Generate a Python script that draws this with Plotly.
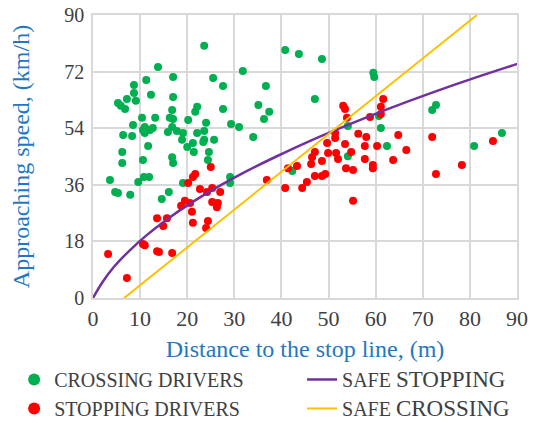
import plotly.graph_objects as go

# Crossing drivers (distance m, speed km/h)
cross_x = [23.6, 40.8, 43.7, 48.6, 31.8, 36.7, 47.1, 35.1, 37.4, 36.3, 29.3, 31.0, 34.0,
           59.5, 59.7, 54.1, 72.0, 72.8, 61.1, 60.7, 62.4, 80.9, 86.8, 54.1, 42.3, 29.1, 29.1,
           13.8, 11.3, 8.7, 8.7, 12.3, 7.2, 9.1, 5.3, 5.9, 6.8, 10.4, 13.2, 8.5, 16.3, 11.0,
           10.6, 12.1, 6.4, 8.3, 11.0, 12.7, 16.8, 15.9, 16.8, 17.0, 17.0, 25.5, 27.6, 27.6,
           22.1, 21.7, 17.0, 20.2, 24.0, 17.8, 19.1, 23.6, 22.1, 18.9, 23.6, 25.7, 21.2, 20.0,
           11.7, 6.2, 6.2, 10.6, 16.8, 17.0, 3.6, 9.6, 10.8, 11.9, 4.7, 5.3, 7.9, 14.6, 16.1,
           19.1, 21.4, 24.6, 23.4, 24.4]
cross_y = [80.2, 78.9, 77.6, 76.0, 72.2, 67.4, 63.3, 61.4, 59.2, 56.9, 55.3, 54.4, 51.2,
           71.6, 70.3, 54.7, 59.8, 61.4, 54.1, 57.9, 48.3, 48.3, 52.5, 45.1, 40.4, 38.5, 36.6,
           73.5, 69.3, 67.7, 65.2, 64.6, 63.3, 62.7, 62.0, 61.1, 60.1, 57.3, 57.3, 55.0, 57.3, 54.4,
           53.4, 53.4, 51.8, 51.5, 52.5, 54.1, 54.4, 52.8, 59.8, 63.9, 70.3, 70.0, 67.4, 60.1,
           60.8, 59.2, 56.9, 56.6, 55.7, 53.1, 52.5, 53.1, 52.5, 50.3, 50.3, 50.3, 49.3, 48.0,
           48.3, 46.4, 42.9, 43.9, 44.8, 42.9, 37.5, 36.9, 38.5, 38.5, 33.7, 33.4, 32.8, 31.5, 33.7,
           36.6, 46.4, 46.4, 49.6, 43.9]

# Stopping drivers
stop_x = [61.6, 61.1, 61.1, 58.8, 64.8, 72.0, 84.9, 60.3, 66.5, 63.7, 59.4, 59.4, 72.8, 78.3,
          49.7, 53.5, 57.7, 47.1, 46.5, 49.9, 51.6, 52.0, 54.8, 57.7, 48.6, 46.3, 53.7, 55.2,
          49.3, 48.6, 47.1, 43.3, 41.4, 45.4, 44.4, 40.8, 36.9, 55.2, 53.1, 53.5, 53.9, 51.4,
          51.4, 56.3, 58.0, 25.0, 21.7, 21.2, 20.2, 22.7, 24.2, 25.3, 27.0, 19.5, 20.6, 18.7,
          21.0, 25.3, 26.5, 26.3, 21.2, 24.4, 24.0, 13.6, 15.7, 14.9, 3.2, 10.6, 11.0, 13.6,
          14.0, 16.8, 7.2]
stop_y = [63.3, 60.8, 58.5, 57.6, 51.8, 51.2, 49.9, 48.3, 47.1, 43.9, 42.3, 41.3, 39.4, 42.3,
          49.3, 49.0, 48.3, 46.4, 44.8, 46.1, 46.1, 44.2, 46.4, 44.2, 43.6, 42.6, 41.3, 40.7,
          39.4, 38.8, 38.8, 42.0, 41.3, 36.9, 35.0, 35.0, 37.5, 30.9, 61.1, 60.1, 57.3, 52.5,
          50.9, 52.2, 51.2, 41.7, 39.4, 38.5, 36.6, 34.7, 33.7, 35.0, 33.7, 30.9, 30.2, 29.3,
          27.4, 30.5, 30.2, 28.9, 23.9, 24.5, 22.3, 25.4, 25.4, 22.9, 14.0, 17.2, 16.8, 14.9,
          14.6, 14.3, 6.4]

# Safe stopping curve
safe_stop_x = [0, 2.0, 4.5, 7.7, 11.4, 15.7, 20.6, 26.1, 32.2, 38.9, 46.1, 54.0, 62.4, 71.4, 81.0, 91.2]
safe_stop_y = [0, 5, 10, 15, 20, 25, 30, 35, 40, 45, 50, 55, 60, 65, 70, 75]

# Safe crossing line
safe_cross_x = [6.6, 81.5]
safe_cross_y = [0, 90]

x_ticks = [0, 10, 20, 30, 40, 50, 60, 70, 80, 90]
y_ticks = [0, 18, 36, 54, 72, 90]

SERIF = "Liberation Serif, Times New Roman, serif"
GRAY = "#404040"
BLUE = "#1f78c1"
GRID = "#d9d9d9"

fig = go.Figure()
fig.add_trace(go.Scatter(x=cross_x, y=cross_y, mode="markers", name="CROSSING DRIVERS",
                         marker=dict(color="#00b050", size=8), legend="legend"))
fig.add_trace(go.Scatter(x=stop_x, y=stop_y, mode="markers", name="STOPPING DRIVERS",
                         marker=dict(color="#ff0000", size=8), legend="legend"))
fig.add_trace(go.Scatter(x=safe_stop_x, y=safe_stop_y, mode="lines",
                         name="SAFE <span style='font-size:23px'>STOPPING</span>",
                         line=dict(color="#7030a0", width=2.5, shape="spline"), legend="legend2"))
fig.add_trace(go.Scatter(x=safe_cross_x, y=safe_cross_y, mode="lines",
                         name="SAFE <span style='font-size:23px'>CROSSING</span>",
                         line=dict(color="#ffc000", width=2), legend="legend2"))

fig.update_layout(
    width=544, height=423,
    margin=dict(l=93, r=27, t=15, b=125, autoexpand=False),
    paper_bgcolor="white", plot_bgcolor="white",
    font=dict(family=SERIF, color=GRAY, size=20),
    showlegend=True,
    legend=dict(orientation="v", x=-0.186, xanchor="left", y=-0.219, yanchor="top",
                font=dict(size=20, color=GRAY), tracegroupgap=0, itemsizing="constant",
                bgcolor="rgba(0,0,0,0)"),
    legend2=dict(orientation="v", x=0.493, xanchor="left", y=-0.219, yanchor="top",
                 font=dict(size=20, color=GRAY), tracegroupgap=0,
                 bgcolor="rgba(0,0,0,0)"),
    xaxis=dict(range=[0, 90], tickvals=x_ticks, showgrid=True, gridcolor=GRID, gridwidth=1.5,
               showline=True, linecolor=GRID, linewidth=1.5, mirror=True, zeroline=False,
               ticks="", tickfont=dict(size=22, color=GRAY), automargin=False,
               ticklabeloverflow="allow",
               title=dict(text="Distance to the stop line, (m)", font=dict(size=24, color=BLUE),
                          standoff=10)),
    yaxis=dict(range=[0, 90], tickvals=y_ticks, showgrid=True, gridcolor=GRID, gridwidth=1.5,
               showline=True, linecolor=GRID, linewidth=1.5, mirror=True, zeroline=False,
               ticks="", tickfont=dict(size=20, color=GRAY), ticklabelstandoff=3, automargin=False,
               ticklabeloverflow="allow",
               title=dict(text="Approaching speed, (km/h)", font=dict(size=24, color=BLUE),
                          standoff=28)),
)

fig.write_html("out.html", config={"displayModeBar": False},
               post_script="document.body.style.margin='0';")
